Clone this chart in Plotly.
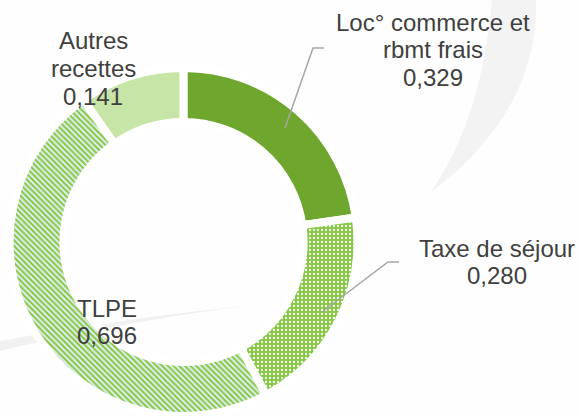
import plotly.graph_objects as go

# ---- data ----
categories = ["Loc° commerce et rbmt frais", "Taxe de séjour", "TLPE", "Autres recettes"]
label_lines = [["Loc° commerce et", "rbmt frais"], ["Taxe de séjour"], ["TLPE"], ["Autres", "recettes"]]
values = [0.329, 0.280, 0.696, 0.141]

W, H = 579, 416

def px(x, y):
    return x / W, 1 - y / H

def path_from(cmds):
    out = []
    for c in cmds:
        if isinstance(c, str):
            out.append(c)
        else:
            X, Y = px(*c)
            out.append(f"{X:.5f},{Y:.5f}")
    return " ".join(out)

cx, cy, R = 183.5, 242, 174

fig = go.Figure()
fig.add_trace(go.Pie(
    labels=categories,
    values=values,
    sort=False,
    direction="clockwise",
    rotation=0,
    hole=0.69,
    textinfo="none",
    hoverinfo="label+value",
    showlegend=False,
    domain=dict(x=[(cx - R) / W, (cx + R) / W], y=[0, 2 * R / H]),
    marker=dict(
        colors=["#6ea62e", "#86c843", "#86c843", "#c8e5a8"],
        line=dict(color="#ffffff", width=8),
        pattern=dict(
            shape=["", ".", "\\", ""],
            fgcolor=["#6ea62e", "#ffffff", "#86c843", "#c8e5a8"],
            bgcolor=["#6ea62e", "#86c843", "#e2eef2", "#c8e5a8"],
            fgopacity=1,
            size=4,
            solidity=[0.3, 0.25, 0.5, 0.3],
            fillmode="replace",
        ),
    ),
))

shapes = []
# background swooshes
shapes.append(dict(type="path", xref="paper", yref="paper", layer="below",
                   path=path_from(["M", (492, -2), "Q", (482, 120), (430, 193), "Q", (540, 110), (536, -2), "Z"]),
                   fillcolor="#f3f3f3", line=dict(width=0)))
shapes.append(dict(type="path", xref="paper", yref="paper", layer="below",
                   path=path_from(["M", (0, 341), "Q", (130, 317), (255, 305), "Q", (130, 320), (0, 351), "Z"]),
                   fillcolor="#f1f1f1", line=dict(width=0)))
# leader lines
shapes.append(dict(type="path", xref="paper", yref="paper",
                   path=path_from(["M", (285, 128), "L", (313, 48), "L", (324, 48)]),
                   line=dict(color="#a6a6a6", width=1.5)))
shapes.append(dict(type="path", xref="paper", yref="paper",
                   path=path_from(["M", (322, 312), "L", (388, 262), "L", (399, 262)]),
                   line=dict(color="#a6a6a6", width=1.5)))

# label positions (pixel centres of first line) per category
label_pos = [(433, 22), (497, 248), (107, 308), (93, 41)]
line_gap = 27.5
annotations = []
for lines, v, (lx, ly) in zip(label_lines, values, label_pos):
    all_lines = lines + [f"{v:.3f}".replace(".", ",")]
    for i, t in enumerate(all_lines):
        X, Y = px(lx, ly + i * line_gap)
        annotations.append(dict(x=X, y=Y, xref="paper", yref="paper", text=t,
                                showarrow=False, xanchor="center", yanchor="middle",
                                font=dict(family="Liberation Sans, Arial, sans-serif",
                                          size=24, color="#404040")))

fig.update_layout(
    width=W, height=H,
    margin=dict(l=0, r=0, t=0, b=0),
    paper_bgcolor="#fefefe",
    plot_bgcolor="#fefefe",
    shapes=shapes,
    annotations=annotations,
)

fig.write_html("out.html", config={"displayModeBar": False},
               post_script="document.body.style.margin='0';document.body.style.overflow='hidden';")
